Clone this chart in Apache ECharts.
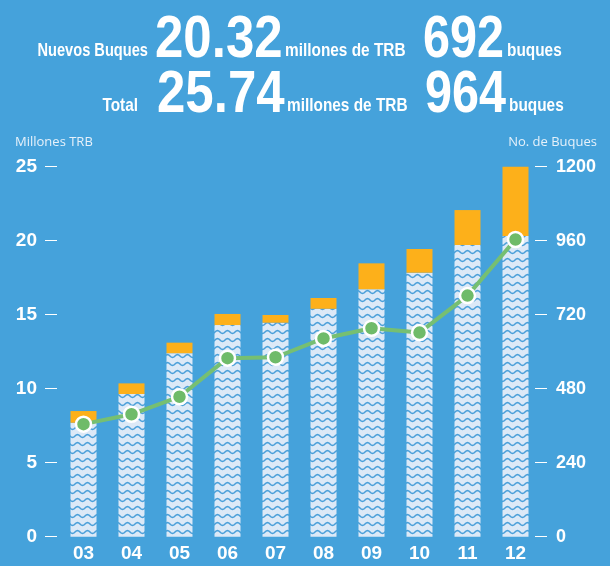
<!DOCTYPE html>
<html>
<head>
<meta charset="utf-8">
<script src="https://cdn.jsdelivr.net/npm/echarts@6/dist/echarts.min.js"></script>
<style>
  html, body { margin: 0; padding: 0; background: #45a2db; }
  #chart { width: 610px; height: 566px; }
</style>
</head>
<body>
<div id="chart"></div>
<script>
// years (x axis)
const years = ['03', '04', '05', '06', '07', '08', '09', '10', '11', '12'];
// millones de TRB, buques nuevos (wave part)
const nuevos = [7.7, 9.64, 12.4, 14.3, 14.46, 15.4, 16.72, 17.84, 19.71, 20.32];
// millones de TRB, total (top of orange part)
const total = [8.49, 10.36, 13.11, 15.05, 14.98, 16.13, 18.47, 19.44, 22.07, 25.18];
// número de buques
const buques = [365, 397, 454, 579, 582, 643, 676, 662, 782, 964];

const resto = total.map((v, i) => +(v - nuevos[i]).toFixed(2));

const boldFont = '"Liberation Sans", Arial, sans-serif';

// wave pattern for the new-ship bars
function makeWave() {
  const c = document.createElement('canvas');
  c.width = 10;
  c.height = 8;
  const ctx = c.getContext('2d');
  ctx.fillStyle = '#dce9f7';
  ctx.fillRect(0, 0, 10, 8);
  ctx.strokeStyle = '#4a9fd9';
  ctx.lineWidth = 1.5;
  ctx.beginPath();
  for (let x = -1; x <= 11; x += 0.5) {
    const y = 4 + 1.4 * Math.sin((2 * Math.PI * x) / 10);
    if (x === -1) ctx.moveTo(x, y); else ctx.lineTo(x, y);
  }
  ctx.stroke();
  return c;
}

const shadow = { shadowColor: 'rgba(0,40,80,0.45)', shadowOffsetX: 1, shadowOffsetY: 1, shadowBlur: 1 };

// header texts are squeezed horizontally to look condensed
function headerText(x, y, text, size, align, sx) {
  return {
    type: 'text',
    x,
    y,
    scaleX: sx || 0.81,
    style: Object.assign({
      text,
      fill: '#ffffff',
      font: `bold ${size}px ${boldFont}`,
      textAlign: align || 'left',
      textVerticalAlign: 'bottom'
    }, shadow)
  };
}

const chart = echarts.init(document.getElementById('chart'));

chart.setOption({
  backgroundColor: '#45a2db',
  animation: false,
  graphic: [
    headerText(148, 60, 'Nuevos Buques', 19, 'right', 0.77),
    headerText(155, 70, '20.32', 60, 'left', 0.85),
    headerText(285, 60, 'millones de TRB', 19),
    headerText(423, 70, '692', 60),
    headerText(507, 60, 'buques', 19),
    headerText(138, 115, 'Total', 19, 'right'),
    headerText(157, 125, '25.74', 60, 'left', 0.85),
    headerText(287, 115, 'millones de TRB', 19),
    headerText(425, 125, '964', 60),
    headerText(509, 115, 'buques', 19),
    {
      type: 'text', x: 15, y: 142,
      style: { text: 'Millones TRB', fill: '#e6f1fa', font: '13px "Open Sans", sans-serif', textVerticalAlign: 'middle' }
    },
    {
      type: 'text', x: 597, y: 142,
      style: { text: 'No. de Buques', fill: '#e6f1fa', font: '13px "Open Sans", sans-serif', textAlign: 'right', textVerticalAlign: 'middle' }
    }
  ],
  grid: { top: 166.7, bottom: 29.3, left: 59.5, right: 70.5 },
  xAxis: {
    type: 'category',
    data: years,
    axisLine: { show: false },
    axisTick: { show: false },
    axisLabel: { color: '#ffffff', fontFamily: boldFont, fontWeight: 'bold', fontSize: 19, margin: 8 }
  },
  yAxis: [
    {
      type: 'value', min: 0, max: 25, interval: 5, offset: 2.5,
      axisLine: { show: false },
      axisTick: { show: true, length: 12, lineStyle: { color: '#ffffff', width: 1 } },
      splitLine: { show: false },
      axisLabel: { color: '#ffffff', fontFamily: boldFont, fontWeight: 'bold', fontSize: 19, margin: 20 }
    },
    {
      type: 'value', min: 0, max: 1200, interval: 240, offset: -4.5, position: 'right',
      axisLine: { show: false },
      axisTick: { show: true, length: 12, lineStyle: { color: '#ffffff', width: 1 } },
      splitLine: { show: false },
      axisLabel: {
        color: '#ffffff', fontFamily: boldFont, fontWeight: 'bold', fontSize: 18, margin: 21,
        formatter: value => String(value)
      }
    }
  ],
  series: [
    {
      type: 'bar',
      name: 'Nuevos',
      stack: 'trb',
      barWidth: 26,
      data: nuevos,
      itemStyle: { color: { image: makeWave(), repeat: 'repeat' } }
    },
    {
      type: 'bar',
      name: 'Resto',
      stack: 'trb',
      barWidth: 26,
      data: resto,
      itemStyle: { color: '#fdb01a' }
    },
    {
      type: 'line',
      name: 'Buques',
      yAxisIndex: 1,
      data: buques,
      z: 5,
      symbol: 'circle',
      symbolSize: 15,
      lineStyle: { color: '#76bf72', width: 4 },
      itemStyle: { color: '#6fbb69', borderColor: '#ffffff', borderWidth: 2.5 }
    }
  ]
});
</script>
</body>
</html>
